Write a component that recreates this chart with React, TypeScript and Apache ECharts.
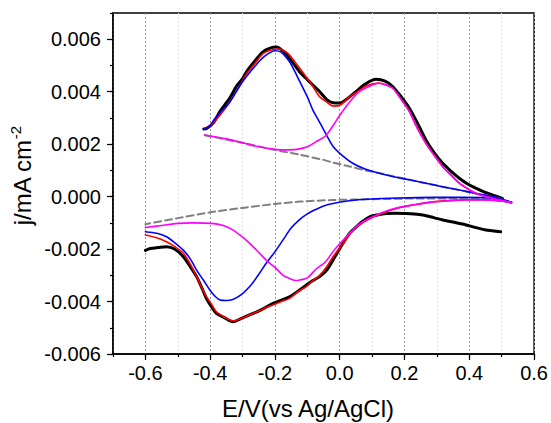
import React, { useEffect, useRef } from "react";
import * as echarts from "echarts";

type Pt = [number, number];

// Axis ticks
const xMajorTicks = [-0.6, -0.4, -0.2, 0.0, 0.2, 0.4, 0.6];
const yMajorTicks = [-0.006, -0.004, -0.002, 0, 0.002, 0.004, 0.006];

// Experimental CV (black), anodic and cathodic branches
const expAnodic: Pt[] = [
  [-0.42, 0.00258], [-0.411, 0.0026], [-0.391, 0.0028], [-0.37, 0.00324], [-0.355, 0.0035],
  [-0.34, 0.00375], [-0.319, 0.0042], [-0.3, 0.0045], [-0.288, 0.00476], [-0.26, 0.0052],
  [-0.237, 0.00552], [-0.215, 0.00566], [-0.196, 0.0057], [-0.175, 0.00555], [-0.155, 0.00527],
  [-0.124, 0.00476], [-0.104, 0.00451], [-0.083, 0.00425], [-0.062, 0.004], [-0.04, 0.0037],
  [-0.021, 0.00358], [0.0, 0.00357], [0.02, 0.0037], [0.05, 0.004], [0.08, 0.0043],
  [0.112, 0.00447], [0.14, 0.0044], [0.164, 0.00419], [0.19, 0.0038], [0.215, 0.00337],
  [0.24, 0.0028], [0.266, 0.00216], [0.29, 0.0017], [0.318, 0.00127], [0.345, 0.00095],
  [0.369, 0.0007], [0.395, 0.00048], [0.42, 0.00032], [0.447, 0.00017], [0.472, 0.00006],
  [0.502, -0.00007],
];
const expCathodic: Pt[] = [
  [0.497, -0.00134], [0.47, -0.0013], [0.451, -0.00127], [0.42, -0.00118], [0.39, -0.00108],
  [0.35, -0.00097], [0.318, -0.00089], [0.29, -0.0008], [0.256, -0.0007], [0.23, -0.00066],
  [0.205, -0.00064], [0.17, -0.00063], [0.143, -0.00064], [0.115, -0.0007], [0.092, -0.00077],
  [0.07, -0.00095], [0.051, -0.00115], [0.03, -0.0014], [0.01, -0.00178], [-0.021, -0.00242],
  [-0.04, -0.0028], [-0.062, -0.00305], [-0.083, -0.0032], [-0.103, -0.00337], [-0.124, -0.00356],
  [-0.155, -0.00382], [-0.18, -0.00395], [-0.206, -0.00407], [-0.24, -0.0043], [-0.278, -0.00451],
  [-0.305, -0.00465], [-0.33, -0.00477], [-0.355, -0.00462], [-0.381, -0.00445], [-0.396, -0.0042],
  [-0.411, -0.0039], [-0.425, -0.0035], [-0.442, -0.00305], [-0.46, -0.0027], [-0.483, -0.00229],
  [-0.51, -0.002], [-0.535, -0.00191], [-0.56, -0.00194], [-0.585, -0.00198], [-0.6, -0.00205],
];

// Baseline (grey dashed)
const baseAnodic: Pt[] = [
  [-0.417, 0.00234], [-0.3, 0.00205], [-0.2, 0.00178], [-0.124, 0.0016], [-0.05, 0.0014],
  [-0.021, 0.0013], [0.03, 0.00115], [0.08, 0.001], [0.15, 0.00082], [0.215, 0.00064],
  [0.266, 0.00051], [0.32, 0.00037], [0.37, 0.00025], [0.42, 0.00012], [0.472, 0.0], [0.53, -0.00022],
];
const baseCathodic: Pt[] = [
  [0.53, -0.00021], [0.45, -0.0001], [0.35, -0.00007], [0.25, -0.00007], [0.1, -0.0001],
  [-0.021, -0.00013], [-0.124, -0.00019], [-0.2, -0.00028], [-0.3, -0.00043], [-0.4, -0.0006],
  [-0.5, -0.00082], [-0.6, -0.00105],
];

// Total fit (red)
const fitAnodic: Pt[] = [
  [-0.417, 0.0026], [-0.4, 0.0027], [-0.391, 0.0028], [-0.37, 0.0031], [-0.34, 0.0036],
  [-0.31, 0.0042], [-0.288, 0.00468], [-0.26, 0.0051], [-0.237, 0.00545], [-0.21, 0.0056],
  [-0.186, 0.00563], [-0.17, 0.00555], [-0.155, 0.0054], [-0.13, 0.005], [-0.104, 0.00457],
  [-0.083, 0.0042], [-0.062, 0.00381], [-0.04, 0.0036], [-0.021, 0.00345], [0.0, 0.00348],
  [0.03, 0.00381], [0.055, 0.004], [0.081, 0.00422], [0.12, 0.00433], [0.145, 0.00425],
  [0.164, 0.00413], [0.19, 0.0037], [0.215, 0.00324], [0.24, 0.0026], [0.266, 0.00203],
  [0.29, 0.0016], [0.318, 0.00114], [0.345, 0.0008], [0.369, 0.00051], [0.395, 0.0003],
  [0.42, 0.00013], [0.45, 0.00001], [0.472, -0.00006], [0.53, -0.00023],
];
const fitCathodic: Pt[] = [
  [0.53, -0.00023], [0.49, -0.00016], [0.44, -0.00012], [0.39, -0.00012], [0.34, -0.00015],
  [0.287, -0.0002], [0.235, -0.0003], [0.184, -0.00042], [0.133, -0.00062], [0.1, -0.0008],
  [0.07, -0.001], [0.04, -0.0013], [0.01, -0.0018], [-0.021, -0.0023], [-0.042, -0.0027],
  [-0.062, -0.003], [-0.083, -0.0032], [-0.103, -0.00343], [-0.124, -0.00358], [-0.155, -0.00388],
  [-0.18, -0.004], [-0.206, -0.00413], [-0.24, -0.0043], [-0.278, -0.00451], [-0.305, -0.00465],
  [-0.33, -0.00473], [-0.355, -0.0046], [-0.381, -0.00439], [-0.396, -0.0041], [-0.411, -0.00382],
  [-0.425, -0.0035], [-0.442, -0.00305], [-0.46, -0.0026], [-0.483, -0.00216], [-0.51, -0.0019],
  [-0.535, -0.00172], [-0.565, -0.00157], [-0.6, -0.00146],
];

// Component 1 (blue)
const peak1Anodic: Pt[] = [
  [-0.417, 0.0026], [-0.4, 0.0027], [-0.39, 0.0029], [-0.37, 0.0032], [-0.34, 0.0036],
  [-0.31, 0.0042], [-0.288, 0.00458], [-0.26, 0.005], [-0.237, 0.0053], [-0.2, 0.00556],
  [-0.18, 0.0055], [-0.155, 0.00514], [-0.14, 0.0048], [-0.124, 0.0044], [-0.1, 0.0038],
  [-0.083, 0.0033], [-0.065, 0.0029], [-0.052, 0.0026], [-0.037, 0.00226], [-0.02, 0.0019],
  [0.0, 0.00165], [0.04, 0.00127], [0.08, 0.00104], [0.12, 0.0009], [0.165, 0.00076],
  [0.215, 0.00064], [0.266, 0.00051], [0.32, 0.00037], [0.37, 0.00025], [0.42, 0.00012],
  [0.472, 0.0], [0.53, -0.00022],
];
const peak1Cathodic: Pt[] = [
  [0.53, -0.00021], [0.49, -0.00009], [0.45, -0.00004], [0.39, -0.00003], [0.29, -0.00003],
  [0.184, -0.00005], [0.081, -0.0001], [0.03, -0.00016], [-0.021, -0.00026], [-0.05, -0.00036],
  [-0.072, -0.00048], [-0.1, -0.00066], [-0.124, -0.00088], [-0.15, -0.0012], [-0.175, -0.00165],
  [-0.2, -0.0021], [-0.227, -0.00254], [-0.252, -0.003], [-0.278, -0.00343], [-0.305, -0.00375],
  [-0.33, -0.00392], [-0.35, -0.00396], [-0.37, -0.00394], [-0.385, -0.0038], [-0.401, -0.00356],
  [-0.42, -0.0032], [-0.442, -0.0028], [-0.46, -0.0024], [-0.483, -0.00204], [-0.51, -0.00175],
  [-0.535, -0.00153], [-0.565, -0.0014], [-0.6, -0.00134],
];

// Component 2 (magenta)
const peak2Anodic: Pt[] = [
  [-0.417, 0.00235], [-0.35, 0.0022], [-0.3, 0.00205], [-0.25, 0.0019], [-0.2, 0.0018],
  [-0.165, 0.00178], [-0.14, 0.00179], [-0.124, 0.00182], [-0.1, 0.0019], [-0.072, 0.0021],
  [-0.045, 0.0023], [-0.021, 0.0027], [0.0, 0.0031], [0.03, 0.0036], [0.06, 0.004],
  [0.09, 0.0042], [0.12, 0.00432], [0.145, 0.00425], [0.164, 0.00413], [0.19, 0.0037],
  [0.215, 0.00324], [0.24, 0.0026], [0.266, 0.00203], [0.29, 0.0016], [0.318, 0.00114],
  [0.345, 0.0008], [0.369, 0.00051], [0.395, 0.0003], [0.42, 0.00013], [0.45, 0.0],
  [0.472, -0.00006], [0.53, -0.00023],
];
const peak2Cathodic: Pt[] = [
  [0.53, -0.00023], [0.49, -0.00016], [0.44, -0.00013], [0.39, -0.00013], [0.34, -0.00016],
  [0.287, -0.0002], [0.235, -0.0003], [0.184, -0.00041], [0.133, -0.0006], [0.105, -0.00075],
  [0.081, -0.00089], [0.055, -0.0011], [0.03, -0.0014], [0.0, -0.0018], [-0.021, -0.0021],
  [-0.045, -0.0025], [-0.072, -0.00275], [-0.1, -0.0031], [-0.124, -0.00318], [-0.134, -0.0032],
  [-0.155, -0.00312], [-0.175, -0.003], [-0.2, -0.0027], [-0.227, -0.00242], [-0.252, -0.0021],
  [-0.278, -0.00178], [-0.305, -0.0015], [-0.33, -0.00127], [-0.36, -0.0011], [-0.396, -0.00102],
  [-0.453, -0.001], [-0.5, -0.00102], [-0.55, -0.0011], [-0.6, -0.00118],
];

const FONT = "'Liberation Sans', Arial, Helvetica, sans-serif";

function lineSeries(data: Pt[], color: string, width: number, dashed = false, smooth = 0.3) {
  return {
    type: "line",
    data,
    xAxisIndex: 0,
    yAxisIndex: 0,
    showSymbol: false,
    symbol: "none",
    smooth,
    silent: true,
    lineStyle: { color, width, type: dashed ? [7, 4] : "solid", cap: "round", join: "round" },
  };
}

export default function App() {
  const ref = useRef<HTMLDivElement>(null);
  useEffect(() => {
    if (!ref.current) return;
    const chart = echarts.init(ref.current, undefined, { renderer: "svg" });
    const axisColor = "#000";
    const xFmt = (v: number) => {
      const k = Math.round(v * 10);
      return (k / 10).toFixed(1);
    };
    const yFmt = (v: number) => {
      if (Math.abs(v) < 1e-9) return "0.000";
      return v.toFixed(3);
    };
    chart.setOption({
      animation: false,
      backgroundColor: "#fff",
      grid: {
        left: 113,
        right: 16,
        top: 13,
        bottom: 69,
        show: true,
        borderColor: "#000",
        borderWidth: 1.5,
        backgroundColor: "transparent",
        containLabel: false,
      },
      xAxis: [
        {
          type: "value",
          min: -0.7,
          max: 0.6,
          interval: 0.1,
          position: "bottom",
          axisLine: { show: true, onZero: false, lineStyle: { color: axisColor, width: 1.5 } },
          axisTick: { show: true, inside: false, length: 3, lineStyle: { color: axisColor, width: 1.2 } },
          axisLabel: { show: false },
          splitLine: {
            show: true,
            lineStyle: { color: ["#e2e2e2", "#999999"], type: [2, 2], width: 1 },
          },
        },
        {
          type: "value",
          min: -0.7,
          max: 0.6,
          position: "bottom",
          axisLine: { show: false, onZero: false },
          axisTick: {
            show: true,
            inside: false,
            length: 6,
            customValues: xMajorTicks,
            lineStyle: { color: axisColor, width: 1.2 },
          },
          axisLabel: {
            show: true,
            customValues: xMajorTicks,
            formatter: xFmt,
            margin: 9,
            fontSize: 20,
            color: "#000",
            fontFamily: FONT,
          },
          splitLine: { show: false },
        },
      ],
      yAxis: [
        {
          type: "value",
          min: -0.006,
          max: 0.007,
          interval: 0.001,
          position: "left",
          axisLine: { show: true, onZero: false, lineStyle: { color: axisColor, width: 1.5 } },
          axisTick: { show: true, inside: false, length: 3, lineStyle: { color: axisColor, width: 1.2 } },
          axisLabel: { show: false },
          splitLine: { show: false },
        },
        {
          type: "value",
          min: -0.006,
          max: 0.007,
          position: "left",
          axisLine: { show: false, onZero: false },
          axisTick: {
            show: true,
            inside: false,
            length: 6,
            customValues: yMajorTicks,
            lineStyle: { color: axisColor, width: 1.2 },
          },
          axisLabel: {
            show: true,
            customValues: yMajorTicks,
            formatter: yFmt,
            margin: 12,
            fontSize: 20,
            color: "#000",
            fontFamily: FONT,
          },
          splitLine: { show: false },
        },
      ],
      graphic: [
        {
          type: "text",
          x: 22,
          y: 176,
          rotation: Math.PI / 2,
          style: {
            text: "{a|j/mA cm}{b|-2}",
            align: "center",
            verticalAlign: "middle",
            rich: {
              a: { fontSize: 24, fontFamily: FONT, fill: "#000", lineHeight: 28 },
              b: { fontSize: 15, fontFamily: FONT, fill: "#000", verticalAlign: "top", lineHeight: 28 },
            },
          },
        },
        {
          type: "text",
          x: 308,
          y: 408,
          style: {
            text: "E/V(vs Ag/AgCl)",
            align: "center",
            verticalAlign: "middle",
            fontSize: 24,
            fontFamily: FONT,
            fill: "#000",
          },
        },
      ],
      series: [
        lineSeries(expAnodic, "#000000", 3),
        lineSeries(expCathodic, "#000000", 3),
        lineSeries(baseAnodic, "#808080", 2, true, 0.2),
        lineSeries(baseCathodic, "#808080", 2, true, 0.2),
        lineSeries(fitAnodic, "#ff0000", 1.6),
        lineSeries(fitCathodic, "#ff0000", 1.6),
        lineSeries(peak1Anodic, "#0000ff", 1.6),
        lineSeries(peak1Cathodic, "#0000ff", 1.6),
        lineSeries(peak2Anodic, "#ff00ff", 1.6),
        lineSeries(peak2Cathodic, "#ff00ff", 1.6),
      ],
    });
    return () => chart.dispose();
  }, []);
  return (
    <div
      ref={ref}
      style={{ position: "fixed", left: 0, top: 0, width: 551, height: 423, background: "#fff" }}
    />
  );
}
